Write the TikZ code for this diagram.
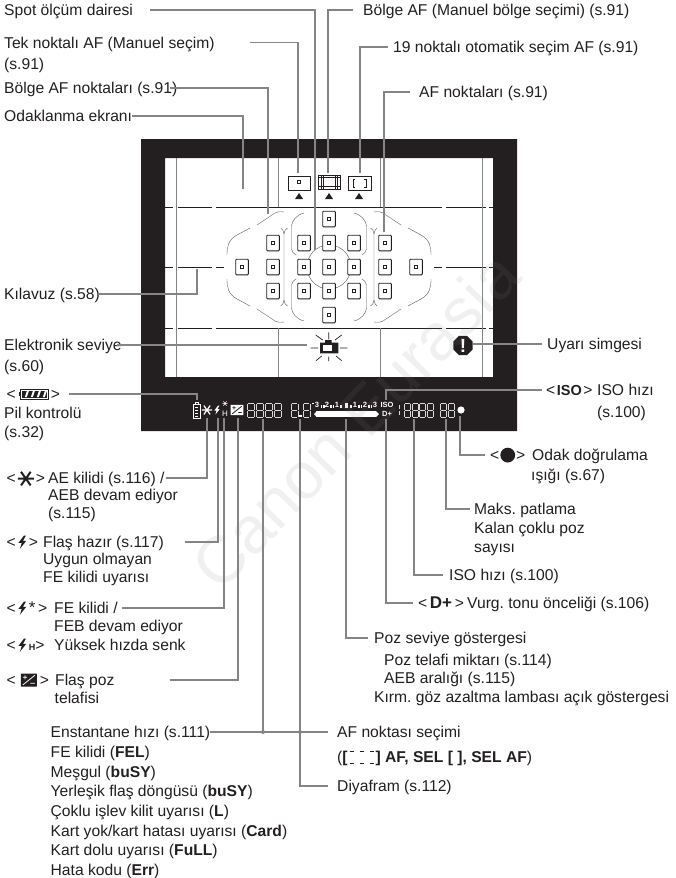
\documentclass[tikz,border=0pt]{standalone}
\usepackage{fontspec}
\setmainfont{Liberation Sans}
\usetikzlibrary{shapes.geometric}
\tikzset{
  lab/.style={anchor=west,inner sep=0pt,text height=11.2pt,text depth=0pt,text=ink},
  leader/.style={draw=leadgray,line width=1.1pt},
  guide/.style={draw=leadgray,line width=0.9pt},
  thin line/.style={draw=ink,line width=0.6pt},
  zone/.style={draw=ink!75,line width=0.4pt},
  pics/aestar/.style={code={
    \draw (-1,0)--(1,0) (-0.6,-0.85)--(0.6,0.85) (-0.6,0.85)--(0.6,-0.85);}},
  pics/flashbolt/.style={code={
    \fill (0.25,-1)--(-0.6,0.12)--(-0.1,0.12)--(-0.35,1)--(0.6,-0.2)--(0.1,-0.2)--(0.55,-1)--cycle;}},
  pics/compbox/.style={code={
    \fill[rounded corners=0.15] (-1,-0.8) rectangle (1,0.8);
    \draw[#1,line width=0.8pt] (-0.75,0.6)--(0.75,-0.6)
      (-0.75,-0.35)--(-0.2,-0.35) (-0.47,-0.6)--(-0.47,-0.1) (0.2,0.4)--(0.75,0.4);}},
  pics/lcd/.style={code={
    \draw[lcdline] (-#1+0.5,-7)--(#1-0.5,-7) (-#1+0.5,0)--(#1-0.5,0) (-#1+0.5,7)--(#1-0.5,7)
      (-#1,-6.5)--(-#1,-0.5) (#1,-6.5)--(#1,-0.5) (-#1,0.5)--(-#1,6.5) (#1,0.5)--(#1,6.5);}},
  pics/afpoint/.style={code={
    \draw[ink,fill=white,line width=0.9pt,rounded corners=0.8pt] (-6.3,-7.8) rectangle (6.3,7.8);
    \draw[ink,line width=0.8pt] (-1.5,-1.5) rectangle (1.5,1.5);}},
  lcdline/.style={draw=white!85!black,line width=0.55pt},
}
\newcommand{\iconstar}{\tikz[baseline=-5pt,x=1pt,y=-1pt]\pic[scale=8,line width=2pt]{aestar};}
\newcommand{\iconbolt}{\tikz[baseline=-5.5pt,x=1pt,y=-1pt]\pic[scale=6.5]{flashbolt};}
\newcommand{\iconcomp}{\tikz[baseline=-5.5pt,x=1pt,y=-1pt]\pic[scale=8]{compbox=white};}
\newcommand{\iconbatt}{\tikz[baseline=-5.5pt,x=1pt,y=-1pt]{
  \fill (-16,-2)rectangle(-14,2); \draw[line width=1pt] (-14,-5)rectangle(14,5);
  \fill (-12.5,-3.5)rectangle(12.5,3.5);
  \foreach \bx in {-8,-2,4,10}{\fill[white] (\bx-2,3)--(\bx,3)--(\bx+2,-3)--(\bx,-3)--cycle;}}}
\newcommand{\icondot}{\tikz[baseline=-5.5pt,x=1pt,y=-1pt]\fill (0,0) circle (7.4pt);}
\newcommand{\iconbrk}{\tikz[baseline=-5.5pt,x=1pt,y=-1pt]{
  \path (-14,0)--(14,0);
  \draw[line width=0.7pt] (-12,-6)--(-8,-6) (-2,-6)--(2,-6) (8,-6)--(12,-6)
    (-12,6)--(-8,6) (-2,6)--(2,6) (8,6)--(12,6);}}
\newcommand{\pre}[2]{\makebox[#1][l]{#2}}
\begin{document}
\begin{tikzpicture}[x=1pt,y=-1pt,font=\fontsize{15.65}{17}\selectfont\frenchspacing]
  \definecolor{ink}{HTML}{231F20}
  \definecolor{leadgray}{HTML}{858585}
  \useasboundingbox (0,0) rectangle (675,878);
  % viewfinder frame
  \fill[ink,even odd rule] (141,139) rectangle (517,431) (165,158) rectangle (493,377);
  \foreach \yy in {207,328}{
    \foreach \xa/\xb in {165/172.7,177.7/211.7,216/441.7,446/486,489/493}{\draw[thin line] (\xa,\yy)--(\xb,\yy);}}
  \foreach \xa/\xb in {165/172.7,177.7/211.7,216/224,434/441.7,446/486,489/493}{\draw[thin line] (\xa,267)--(\xb,267);}
  \draw[guide] (176,158)--(176,377) (482,158)--(482,377);
  \draw[guide] (278,158)--(278,207) (278,328)--(278,377) (380,158)--(380,207) (380,328)--(380,377);
  % AF zones
  \draw[zone] (329,267) circle (22);
  \foreach \sx/\sy in {1/1,-1/1,1/-1,-1/-1}{
    \begin{scope}[shift={(329,267)},xscale=\sx,yscale=\sy]
      \draw[zone] (-45,-55) .. controls (-50,-55.5) .. (-54,-54) -- (-72,-42);
      \draw[zone] (-79,-39) -- (-92,-32) .. controls (-101,-27) and (-102,-20) .. (-102,-12);
      \draw[zone] (-25,-54) .. controls (-33,-52) and (-37,-46) .. (-37.5,-41) -- (-37.5,-18)
        .. controls (-37,-15) and (-35,-13) .. (-33,-12);
      \draw[zone] (-48,-39) .. controls (-46,-37) .. (-45,-33) -- (-45,0);
      \draw[zone] (-41.5,-39) .. controls (-44,-37) .. (-45,-33);
    \end{scope}
  }
  \begin{scope}[shift={(329,267)}]
    \foreach \px/\py in {0/-48,-56/-24,-25/-24,0/-24,25/-24,56/-24,
      -87/0,-56/0,-25/0,0/0,25/0,56/0,87/0,
      -56/24,-25/24,0/24,25/24,56/24,0/48}{
      \pic at (\px,\py) {afpoint};
    }
  \end{scope}
  % AF mode icons
  \draw[ink,line width=0.9pt] (288,176) rectangle (310,190);
  \draw[ink,line width=0.8pt] (297.5,180.5) rectangle (300.5,183.5);
  \draw[ink,line width=0.9pt] (318,175) rectangle (340,189);
  \draw[ink,line width=0.5pt] (318,177.5)--(340,177.5) (318,186.5)--(340,186.5)
    (321,175)--(321,189) (323,175)--(323,189) (335,175)--(335,189) (337,175)--(337,189);
  \draw[ink,line width=0.9pt] (348,176) rectangle (371,190);
  \draw[ink,line width=1pt] (355,179)--(353,179)--(353,187)--(355,187) (364,179)--(366,179)--(366,187)--(364,187);
  \foreach \tx in {299,329,359}{\fill[ink] (\tx-4,199)--(\tx+4,199)--(\tx,193)--cycle;}
  % level icon
  \fill[ink] (320,342.7) rectangle (338.3,353.3) (325,340) rectangle (331.7,343);
  \fill[white] (322.7,345) rectangle (331.7,351);
  \draw[ink,line width=0.7pt] (310.7,348)--(318,348) (340,348)--(347.3,348)
    (328.7,332.3)--(328.7,339.3) (328.7,356.7)--(328.7,361)
    (315.7,335)--(322.7,340) (341.7,335)--(335,340) (316,360.7)--(321.7,356) (341.7,360.7)--(336,356);
  % warning
  \node[regular polygon,regular polygon sides=8,fill=ink,text=white,inner sep=0pt,minimum size=21pt,
    font=\fontsize{19}{19}\bfseries\selectfont] (warn) at (463,345.5) {!};
  % lcd row
  \draw[white,line width=0.6pt] (193,404) rectangle (200,418) (195,404)--(195,402.5)--(198,402.5)--(198,404);
  \draw[white,line width=0.9pt] (194.8,407)--(198.2,407) (194.8,410)--(198.2,410) (194.8,413)--(198.2,413) (194.8,416)--(198.2,416);
  \pic[white,scale=5.2,line width=1.2pt] at (207,410) {aestar};
  \pic[white,scale=4.5] at (217,410) {flashbolt};
  \pic[white,scale=2.6,line width=0.5pt] at (225,403.5) {aestar};
  \node[inner sep=0pt,text=white,font=\fontsize{8}{8}\selectfont] (fph) at (225,413.5) {H};
  \pic[white,scale=6.3] at (237,410) {compbox=ink};
  \foreach \dx in {251,260,269,278}{\pic at (\dx,410) {lcd=3.4};}
  \foreach \dx in {294.5,306.5}{\pic at (\dx,410) {lcd=3.4};}
  \fill[white] (299,414.5) rectangle (301.5,417);
  \foreach \dx in {407.5,415,422.5,430,443,451}{\pic at (\dx,410) {lcd=3};}
  \draw[lcdline] (399.5,405)--(399.5,409) (399.5,411)--(399.5,415);
  \foreach \dx/\num in {317/3,327/2,337/1,355/1,365/2,375/3}{
    \node[inner sep=0pt,text=white,font=\fontsize{7.6}{7.6}\bfseries\selectfont] (sc\dx) at (\dx,405) {\num};}
  \foreach \dx in {321.3,323.7,331,333.5,341,351,359,361.5,369,371.5}{\fill[white] (\dx-0.8,405) rectangle (\dx+0.8,408);}
  \fill[white] (344.5,402.5) rectangle (347.5,408);
  \fill[white] (312,402.5) rectangle (314,404);
  \foreach \dx in {317,319,...,375}{\draw[white,line width=1.1pt] (\dx,411)--(\dx,417);}
  \fill[white] (316,412)--(316,416)--(314,414)--cycle (376,411)--(376,417)--(379,414)--cycle;
  \node[inner sep=0pt,text=white,font=\fontsize{7.5}{7.5}\bfseries\selectfont] (fiso) at (387,405) {ISO};
  \node[inner sep=0pt,text=white,font=\fontsize{7.5}{7.5}\bfseries\selectfont] (fdp) at (387,414) {D+};
  \fill[white] (461,410) circle (3.6);
  % top and left labels
  \node[lab] (spot) at (4,10) {Spot ölçüm dairesi};
  \node[lab] (tek) at (4,42.5) {Tek noktalı AF (Manuel seçim)};
  \node[lab] (tekb) at (4,64) {(s.91)};
  \node[lab] (bolgeaf) at (4,88) {Bölge AF noktaları (s.91)};
  \node[lab] (odakl) at (4,116) {Odaklanma ekranı};
  \node[lab] (bolgem) at (363,10) {Bölge AF (Manuel bölge seçimi) (s.91)};
  \node[lab] (ondok) at (393,47) {19 noktalı otomatik seçim AF (s.91)};
  \node[lab] (afnok) at (419,92) {AF noktaları (s.91)};
  \node[lab] (kilav) at (4,294) {Kılavuz (s.58)};
  \node[lab] (elek) at (4,345) {Elektronik seviye};
  \node[lab] (elekb) at (4,365.5) {(s.60)};
  \node[lab] (batt) at (6.5,394) {<\hspace{3pt}\iconbatt\hspace{1.5pt}>};
  \node[lab] (pil) at (4,413) {Pil kontrolü};
  \node[lab] (pilb) at (4,432) {(s.32)};
  \node[lab] (ae) at (6.5,478) {\pre{41.5pt}{<\hspace{1pt}\iconstar\hspace{1pt}>}AE kilidi (s.116) /};
  \node[lab] (aeb) at (48,495) {AEB devam ediyor};
  \node[lab] (aec) at (48,512.5) {(s.115)};
  \node[lab] (flas) at (6.5,542) {\pre{36.5pt}{<\,\iconbolt\,>}Flaş hazır (s.117)};
  \node[lab] (flasb) at (43,559) {Uygun olmayan};
  \node[lab] (flasc) at (43,577) {FE kilidi uyarısı};
  \node[lab] (fe) at (6.5,608) {\pre{47.5pt}{<\,\iconbolt{}\,{\fontsize{17}{17}\selectfont *}\,>}FE kilidi /};
  \node[lab] (feb) at (54,625.5) {FEB devam ediyor};
  \node[lab] (yuk) at (6.5,645) {\pre{47.5pt}{<\,\iconbolt{}\,{\fontsize{9}{9}\bfseries\selectfont H}>}Yüksek hızda senk};
  \node[lab] (comp) at (6.5,680) {\pre{48.5pt}{<\hspace{5pt}\iconcomp\hspace{3pt}>}Flaş poz};
  \node[lab] (compb) at (54.5,698) {telafisi};
  % bottom list
  \node[lab] (ensta) at (50.5,732) {Enstantane hızı (s.111)};
  \foreach \yy/\txt in {752/{FE kilidi (\textbf{FEL})},771.5/{Meşgul (\textbf{buSY})},
    791/{Yerleşik flaş döngüsü (\textbf{buSY})},810.5/{Çoklu işlev kilit uyarısı (\textbf{L})},
    830.5/{Kart yok/kart hatası uyarısı (\textbf{Card})},850/{Kart dolu uyarısı (\textbf{FuLL})},
    869.5/{Hata kodu (\textbf{Err})}}{
    \node[lab] (lst\yy) at (50.5,\yy) {\txt};
  }
  \node[lab] (afsec) at (337,732) {AF noktası seçimi};
  \node[lab] (afsecb) at (337,757) {(\textbf{[}\iconbrk\textbf{] AF, SEL [ ], SEL AF})};
  \node[lab] (diya) at (337,786) {Diyafram (s.112)};
  % right labels
  \node[lab] (uyari) at (547,344) {Uyarı simgesi};
  \node[lab] (iso) at (546,390) {\pre{51pt}{<\hspace{1.5pt}{\fontsize{14.5}{15}\bfseries\selectfont ISO}\hspace{1.5pt}>}ISO hızı};
  \node[lab] (isob) at (597,412) {(s.100)};
  \node[lab] (odagi) at (490,455) {\pre{42pt}{<\hspace{1pt}\icondot\hspace{1pt}>}Odak doğrulama};
  \node[lab] (odagib) at (531,475) {ışığı (s.67)};
  \node[lab] (maks) at (474,509) {Maks. patlama};
  \node[lab] (maksb) at (474,528) {Kalan çoklu poz};
  \node[lab] (maksc) at (474,547) {sayısı};
  \node[lab] (isosp) at (449,575) {ISO hızı (s.100)};
  \node[lab] (vurg) at (418,603) {\pre{49pt}{<\,{\fontsize{17}{17}\bfseries\selectfont D+}\,>}Vurg. tonu önceliği (s.106)};
  \node[lab] (pozs) at (374,638) {Poz seviye göstergesi};
  \node[lab] (pozb) at (384,660) {Poz telafi miktarı (s.114)};
  \node[lab] (pozc) at (384,678) {AEB aralığı (s.115)};
  \node[lab] (pozd) at (374,697) {Kırm. göz azaltma lambası açık göstergesi};
  % leader ends
  \coordinate (spotend) at (315,250);
  \coordinate (bolgemend) at (328,173);
  \coordinate (tekend) at (298,173);
  \coordinate (ondokend) at (360,173);
  \coordinate (bolgeafend) at (268,214);
  \coordinate (afnokend) at (384,232);
  \coordinate (odaklend) at (243,189);
  \coordinate (kilavend) at (197,269);
  \coordinate (elekend) at (307,345);
  \coordinate (battend) at (197,400);
  \coordinate (isoend) at (386,400);
  \coordinate (aeend) at (207,418);
  \coordinate (flasend) at (218,418);
  \coordinate (feend) at (224,418);
  \coordinate (compend) at (238,418);
  \coordinate (shutend) at (263,419);
  \coordinate (apend) at (300,419);
  \coordinate (pozend) at (346,419);
  \coordinate (dpend) at (386,419);
  \coordinate (isospend) at (414,419);
  \coordinate (maksend) at (446,419);
  \coordinate (dotend) at (460,416);
  \draw[leader] ([xshift=17pt]spot.east) -| (spotend);
  \draw[leader] ([xshift=-10pt]bolgem.west) -| (bolgemend);
  \draw[leader] ([xshift=35pt]tek.east) -| (tekend);
  \draw[leader] ([xshift=-5pt]ondok.west) -| (ondokend);
  \draw[leader] ([xshift=-7pt]bolgeaf.east) -| (bolgeafend);
  \draw[leader] ([xshift=-9pt]afnok.west) -| (afnokend);
  \draw[leader] (odakl.east) -| (odaklend);
  \draw[leader] ([xshift=-2pt]kilav.east) -| (kilavend);
  \draw[leader] ([xshift=-5pt]elek.east) -- (elekend);
  \draw[leader] ([xshift=-5pt]uyari.west) -- (warn.east |- uyari.west);
  \draw[leader] ([xshift=9pt]batt.east) -| (battend);
  \draw[leader] ([xshift=-4pt]iso.west) -| (isoend);
  \draw[leader] ([xshift=1pt]ae.east) -| (aeend);
  \draw[leader] ([xshift=21pt]flas.east) -| (flasend);
  \draw[leader] ([xshift=4pt]fe.east) -| (feend);
  \draw[leader] ([xshift=55pt]comp.east) -| (compend);
  \draw[leader] (ensta.east) -- ([xshift=-9pt]afsec.west);
  \draw[leader] (shutend) -- (shutend |- ensta) coordinate (shutjoin);
  \draw[leader] (apend) |- ([xshift=-9pt]diya.west);
  \coordinate (apjoin) at (apend |- ensta);
  \fill[leadgray] (shutjoin) circle (2pt) (apjoin) circle (2pt);
  \draw[leader] (pozend) |- ([xshift=-6pt]pozs.west);
  \draw[leader] (dpend) |- ([xshift=-5pt]vurg.west);
  \draw[leader] (isospend) |- ([xshift=-6pt]isosp.west);
  \draw[leader] (maksend) |- ([xshift=-4pt]maks.west);
  \draw[leader] (dotend) |- ([xshift=-5pt]odagi.west);
  % watermark
  \node[rotate=46,inner sep=0pt,text=gray,opacity=0.12,font=\fontsize{66}{66}\selectfont] (wmark) at (355,420) {Canon Eurasia};
\end{tikzpicture}
\end{document}
